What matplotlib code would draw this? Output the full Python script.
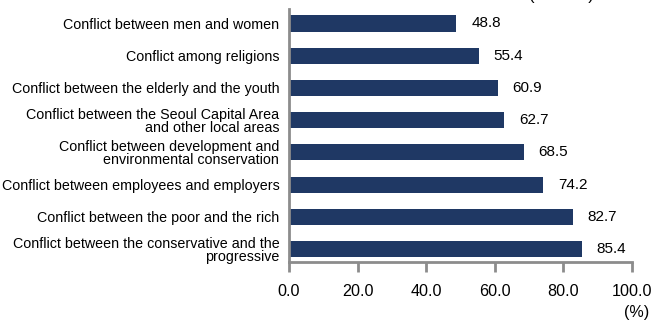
import matplotlib.pyplot as plt

plt.rcParams['font.family'] = ['Liberation Sans', 'DejaVu Sans']

categories = [
    'Conflict between men and women',
    'Conflict among religions',
    'Conflict between the elderly and the youth',
    'Conflict between the Seoul Capital Area\nand other local areas',
    'Conflict between development and\nenvironmental conservation',
    'Conflict between employees and employers',
    'Conflict between the poor and the rich',
    'Conflict between the conservative and the\nprogressive',
]
values = [48.8, 55.4, 60.9, 62.7, 68.5, 74.2, 82.7, 85.4]
xticks = [0, 20, 40, 60, 80, 100]

fig = plt.figure(figsize=(6.53, 3.2), dpi=100)
ax = fig.add_axes([0.4426, 0.18125, 0.9678 - 0.4426, 0.9719 - 0.18125])

pos = list(range(len(categories)))
ax.barh(pos, values, height=0.5, color='#1f3864')

for y, v in zip(pos, values):
    ax.text(v + 4.3, y, f'{v:.1f}', va='center', ha='left', fontsize=11)

ax.set_xlim(0, 100)
ax.set_ylim(7.4, -0.45)
ax.set_yticks(pos)
ax.set_yticklabels(categories, fontsize=10.3, linespacing=0.95)
ax.tick_params(axis='y', length=0, pad=7)
ax.set_xticks(xticks)
ax.set_xticklabels([f'{t:.1f}' for t in xticks], fontsize=11.6)
ax.tick_params(axis='x', direction='out', length=7, width=2, color='#8c8c8c', pad=9)

for s in ['top', 'right']:
    ax.spines[s].set_visible(False)
for s in ['left', 'bottom']:
    ax.spines[s].set_color('#8c8c8c')
    ax.spines[s].set_linewidth(2)

fig.text(0.995, 0.025, '(%)', ha='right', va='center', fontsize=11.6)
# unit note sits at the very top edge, mostly outside the canvas
fig.text(0.86, 1.0, '(Unit: %)', ha='center', va='baseline', fontsize=12)

fig.savefig('out.png', dpi=100)
